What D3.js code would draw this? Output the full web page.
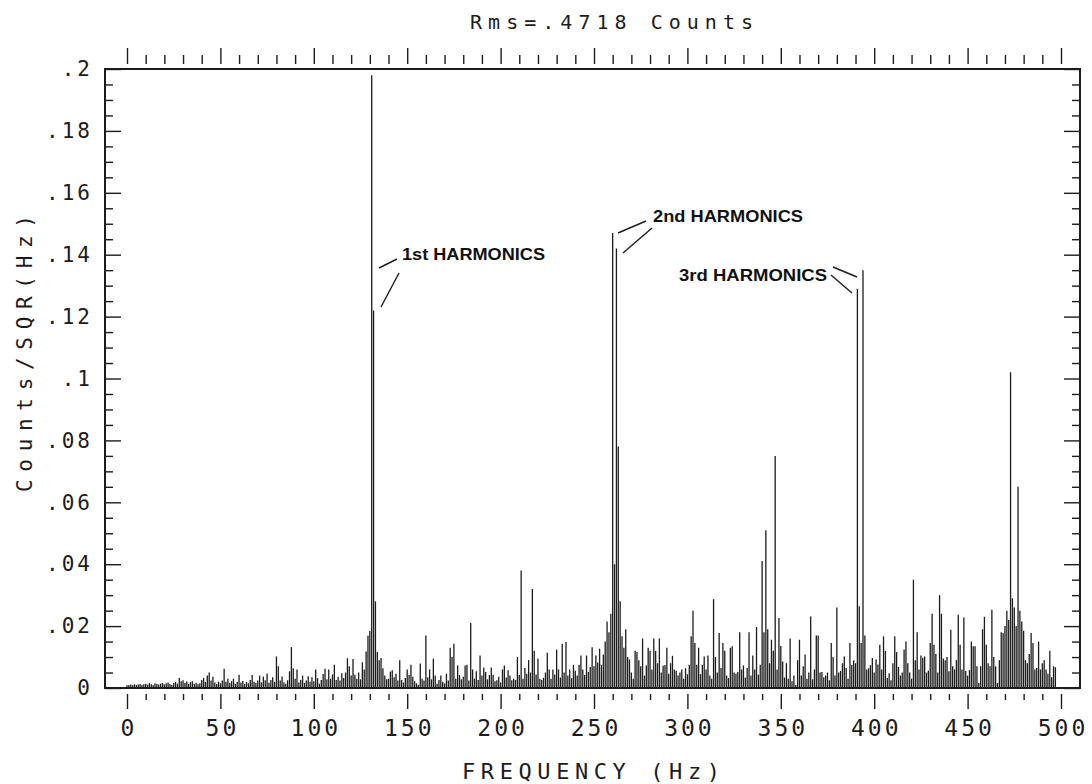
<!DOCTYPE html>
<html>
<head>
<meta charset="utf-8">
<script src="https://cdn.jsdelivr.net/npm/d3@7"></script>
<style>
  body { margin: 0; background: #fff; }
  .plot text { font-family: "DejaVu Sans Mono", monospace; fill: #1c1c1c; }
  .plot .note { font-family: "Liberation Sans", Arial, sans-serif; font-weight: bold; fill: #111; }
</style>
</head>
<body>
<svg id="chart" class="plot"></svg>
<script>
// spectrum, one bin per Hz from 0 Hz, in thousandths of Counts/SQR(Hz)
const amp_milli = [
  0.9,1.0,1.1,0.9,1.2,1.0,1.1,1.3,1.0,1.2,      // 0
  1.4,1.1,1.6,1.2,1.0,1.5,1.3,1.1,1.4,1.6,      // 10
  1.2,1.5,1.8,1.3,1.0,1.6,2.0,1.4,3.2,2.2,      // 20
  2.5,1.6,2.1,1.3,1.9,2.2,1.4,1.7,1.2,1.5,      // 30
  2.6,3.2,2.0,4.0,5.0,2.4,3.6,1.8,1.3,2.0,      // 40
  1.5,2.4,6.2,2.0,3.0,1.6,2.2,3.0,1.4,2.0,      // 50
  4.3,1.8,2.3,1.4,1.9,1.5,2.6,4.2,2.0,1.6,      // 60
  2.4,4.0,1.8,3.7,2.5,4.7,1.7,2.6,3.5,2.0,      // 70
  10.2,7.0,2.4,3.7,1.8,1.4,2.5,5.4,13.2,6.4,    // 80
  3.0,6.0,1.8,2.6,4.0,1.6,2.4,3.8,2.0,3.5,      // 90
  2.2,6.0,3.2,1.4,2.6,4.5,6.2,2.8,6.0,3.0,      // 100
  4.4,7.5,2.6,3.6,2.4,4.8,3.2,5.0,9.6,7.0,      // 110
  4.0,9.4,4.3,3.0,5.0,2.8,8.3,6.0,11.8,16.9,    // 120
  18.4,198,122,28,11.6,9.0,9.7,6.4,4.0,2.8,     // 130
  3.0,5.3,5.7,3.5,4.6,2.4,9.0,2.6,1.8,3.2,      // 140
  6.0,4.2,7.5,3.6,2.2,1.5,1.0,7.9,3.0,2.4,      // 150
  17.0,3.5,6.0,2.8,9.5,4.0,1.4,2.6,4.0,2.0,     // 160
  1.5,4.6,2.4,13.0,10.0,14.3,3.0,7.3,4.2,2.8,   // 170
  3.6,7.3,7.5,2.4,21.0,6.0,3.0,5.4,2.6,10.5,    // 180
  4.0,6.6,5.2,2.8,4.2,6.6,4.3,2.2,2.5,3.6,      // 190
  1.8,6.0,7.3,3.4,5.7,4.0,2.5,3.0,2.6,10.0,     // 200
  4.2,38.0,3.0,6.5,4.6,9.0,5.0,32.0,12.0,4.4,   // 210
  9.5,3.0,2.6,3.3,5.0,11.4,6.0,3.0,6.0,4.4,     // 220
  12.4,6.0,3.4,14.3,5.0,14.9,4.0,6.0,3.2,7.5,   // 230
  5.6,4.0,7.5,10.5,6.0,4.2,10.5,5.2,6.8,13.2,   // 240
  7.0,10.5,8.2,12.7,7.5,10.8,15.0,21.5,18.0,24.0, // 250
  147,40,142,78,28,16.7,13.0,19.0,10.0,9.2,     // 260
  5.0,3.0,12.0,11.6,9.0,7.0,16.0,4.0,7.3,13.0,  // 270
  12.0,6.0,16.0,12.0,8.0,16.0,5.0,7.2,7.4,13.0, // 280
  4.6,8.0,10.4,6.0,5.6,4.0,5.0,6.0,3.0,6.4,     // 290
  4.4,7.5,16.7,25.0,14.5,7.5,13.0,4.5,7.5,10.2, // 300
  6.0,10.5,4.0,3.0,28.7,10.0,5.0,17.8,6.5,14.5, // 310
  12.0,4.0,3.2,13.0,13.5,5.0,4.6,5.2,18.0,6.0,  // 320
  7.3,3.4,6.5,18.0,4.0,10.5,6.0,19.7,4.3,7.5,   // 330
  41,18,51,19,8.0,15.6,12.0,75,6.0,22.6,        // 340
  13.6,8.6,3.4,8.0,3.0,16.0,2.2,4.0,1.0,9.0,    // 350
  15.6,4.0,7.0,10.8,3.0,5.0,23.1,2.8,6.0,17.0,  // 360
  17.0,5.0,5.2,3.5,4.0,5.0,2.5,14.5,10.0,4.0,   // 370
  26.0,5.0,5.5,8.0,10.2,6.5,3.0,14.5,7.4,9.0,   // 380
  8.0,129,26.4,14.5,135,17.0,6.0,6.4,7.4,9.7,   // 390
  5.0,9.2,7.6,14.0,6.0,16.7,12.0,3.2,4.8,2.5,   // 400
  8.0,16.7,11.6,6.8,4.0,5.0,12.4,15.0,8.0,5.0,  // 410
  3.0,35.0,9.0,18.0,6.0,10.5,9.8,10.2,5.0,5.6,  // 420
  14.5,24.0,14.0,11.0,5.0,30.0,24.0,9.5,9.0,10.0, // 430
  5.4,18.8,7.0,6.0,9.0,23.7,14.0,6.0,22.8,5.5,  // 440
  4.0,5.8,15.0,13.5,13.5,7.0,1.6,7.0,19.0,23.0, // 450
  14.0,8.0,7.0,25.3,10.0,7.0,1.6,9.0,18.0,17.8, // 460
  20.0,25.0,22.0,102,29.0,26.0,20.0,65,25.0,21.5, // 470
  18.5,9.0,8.0,11.0,17.8,14.5,6.0,6.5,15.0,6.0, // 480
  8.0,9.0,6.0,4.6,12.0,3.5,7.0,6.7              // 490
];

const xTicks = [0, 50, 100, 150, 200, 250, 300, 350, 400, 450, 500];
const xTickLabels = ['0', '50', '100', '150', '200', '250', '300', '350', '400', '450', '500'];
const yTicks = [0, 0.02, 0.04, 0.06, 0.08, 0.1, 0.12, 0.14, 0.16, 0.18, 0.2];
const yTickLabels = ['0', '.02', '.04', '.06', '.08', '.1', '.12', '.14', '.16', '.18', '.2'];
const titleText = 'Rms=.4718 Counts';
const xTitle = 'FREQUENCY (Hz)';
const yTitle = 'Counts/SQR(Hz)';
const harmonicLabels = ['1st HARMONICS', '2nd HARMONICS', '3rd HARMONICS'];

const W = 1092, H = 784;
const frame = { left: 105, right: 1080, top: 69, bottom: 688 };

const svg = d3.select('#chart').attr('width', W).attr('height', H);

const x = d3.scaleLinear().domain([0, 500]).range([127, 1061]);
const y = d3.scaleLinear().domain([0, 0.2]).range([frame.bottom, frame.top]);

const spectrum = amp_milli.map((v, i) => ({ f: i, v: v / 1000 }));

const ink = '#1c1c1c';

// spectral lines
svg.append('g')
  .selectAll('line')
  .data(spectrum)
  .enter()
  .append('line')
  .attr('x1', d => x(d.f))
  .attr('x2', d => x(d.f))
  .attr('y1', y(0))
  .attr('y2', d => y(d.v))
  .attr('stroke', ink)
  .attr('stroke-width', 1.3);

// frame
svg.append('rect')
  .attr('x', frame.left)
  .attr('y', frame.top)
  .attr('width', frame.right - frame.left)
  .attr('height', frame.bottom - frame.top)
  .attr('fill', 'none')
  .attr('stroke', ink)
  .attr('stroke-width', 2);

const yMinor = d3.range(0.005, 0.2, 0.005).filter(v => Math.abs(v * 50 - Math.round(v * 50)) > 1e-6);
const xMinor = d3.range(10, 500, 10).filter(v => v % 50 !== 0);

function styleAxis(g) {
  g.select('.domain').remove();
  g.selectAll('.tick line').attr('stroke', ink).attr('stroke-width', 1.4);
}

// left axis, ticks pointing inward
const yLeft = svg.append('g').attr('transform', `translate(${frame.left},0)`)
  .call(d3.axisLeft(y).tickValues(yTicks).tickSizeInner(-16).tickSizeOuter(0).tickPadding(12)
    .tickFormat((d, i) => yTickLabels[i]));
yLeft.call(styleAxis);
yLeft.selectAll('text').style('font-size', '21px').style('letter-spacing', '3px');

svg.append('g').attr('transform', `translate(${frame.left},0)`)
  .call(d3.axisLeft(y).tickValues(yMinor).tickSizeInner(-8).tickSizeOuter(0).tickFormat(''))
  .call(styleAxis);

// right axis
svg.append('g').attr('transform', `translate(${frame.right},0)`)
  .call(d3.axisRight(y).tickValues(yTicks).tickSizeInner(-16).tickSizeOuter(0).tickFormat(''))
  .call(styleAxis);
svg.append('g').attr('transform', `translate(${frame.right},0)`)
  .call(d3.axisRight(y).tickValues(yMinor).tickSizeInner(-8).tickSizeOuter(0).tickFormat(''))
  .call(styleAxis);

// top tick row
svg.append('g').attr('transform', 'translate(0,64)')
  .call(d3.axisTop(x).tickValues(xTicks).tickSizeInner(16).tickSizeOuter(0).tickFormat(''))
  .call(styleAxis);
svg.append('g').attr('transform', 'translate(0,64)')
  .call(d3.axisTop(x).tickValues(xMinor).tickSizeInner(9).tickSizeOuter(0).tickFormat(''))
  .call(styleAxis);

// bottom tick row with labels
const xBottom = svg.append('g').attr('transform', 'translate(0,694)')
  .call(d3.axisBottom(x).tickValues(xTicks).tickSizeInner(15).tickSizeOuter(0).tickPadding(11)
    .tickFormat((d, i) => xTickLabels[i]));
xBottom.call(styleAxis);
xBottom.selectAll('text').style('font-size', '23px').style('letter-spacing', '3px').attr('dx', '1.5px');
svg.append('g').attr('transform', 'translate(0,694)')
  .call(d3.axisBottom(x).tickValues(xMinor).tickSizeInner(6).tickSizeOuter(0).tickFormat(''))
  .call(styleAxis);

// titles
svg.append('text')
  .attr('x', 470).attr('y', 29)
  .attr('textLength', 283).attr('lengthAdjust', 'spacing')
  .style('font-size', '20px')
  .text(titleText);

svg.append('text')
  .attr('x', 462).attr('y', 779)
  .attr('textLength', 258).attr('lengthAdjust', 'spacing')
  .style('font-size', '22px')
  .text(xTitle);

svg.append('text')
  .attr('transform', 'translate(32,492) rotate(-90)')
  .attr('textLength', 277).attr('lengthAdjust', 'spacing')
  .style('font-size', '21px')
  .text(yTitle);

// harmonic annotations
const notePos = [
  { x: 402, y: 260, w: 143, leaders: [[379, 268, 397, 259], [381, 307, 399, 273]] },
  { x: 653, y: 222, w: 150, leaders: [[618, 233, 646, 221], [623, 253, 652, 228]] },
  { x: 679, y: 281, w: 148, leaders: [[833, 267, 857, 277], [831, 275, 852, 293]] }
];

const notes = svg.append('g');
harmonicLabels.forEach((label, i) => {
  const p = notePos[i];
  notes.append('text')
    .attr('class', 'note')
    .attr('x', p.x).attr('y', p.y)
    .attr('textLength', p.w).attr('lengthAdjust', 'spacingAndGlyphs')
    .style('font-size', '16.5px')
    .text(label);
  p.leaders.forEach(l => {
    notes.append('line')
      .attr('x1', l[0]).attr('y1', l[1]).attr('x2', l[2]).attr('y2', l[3])
      .attr('stroke', ink).attr('stroke-width', 1.4);
  });
});
</script>
</body>
</html>
